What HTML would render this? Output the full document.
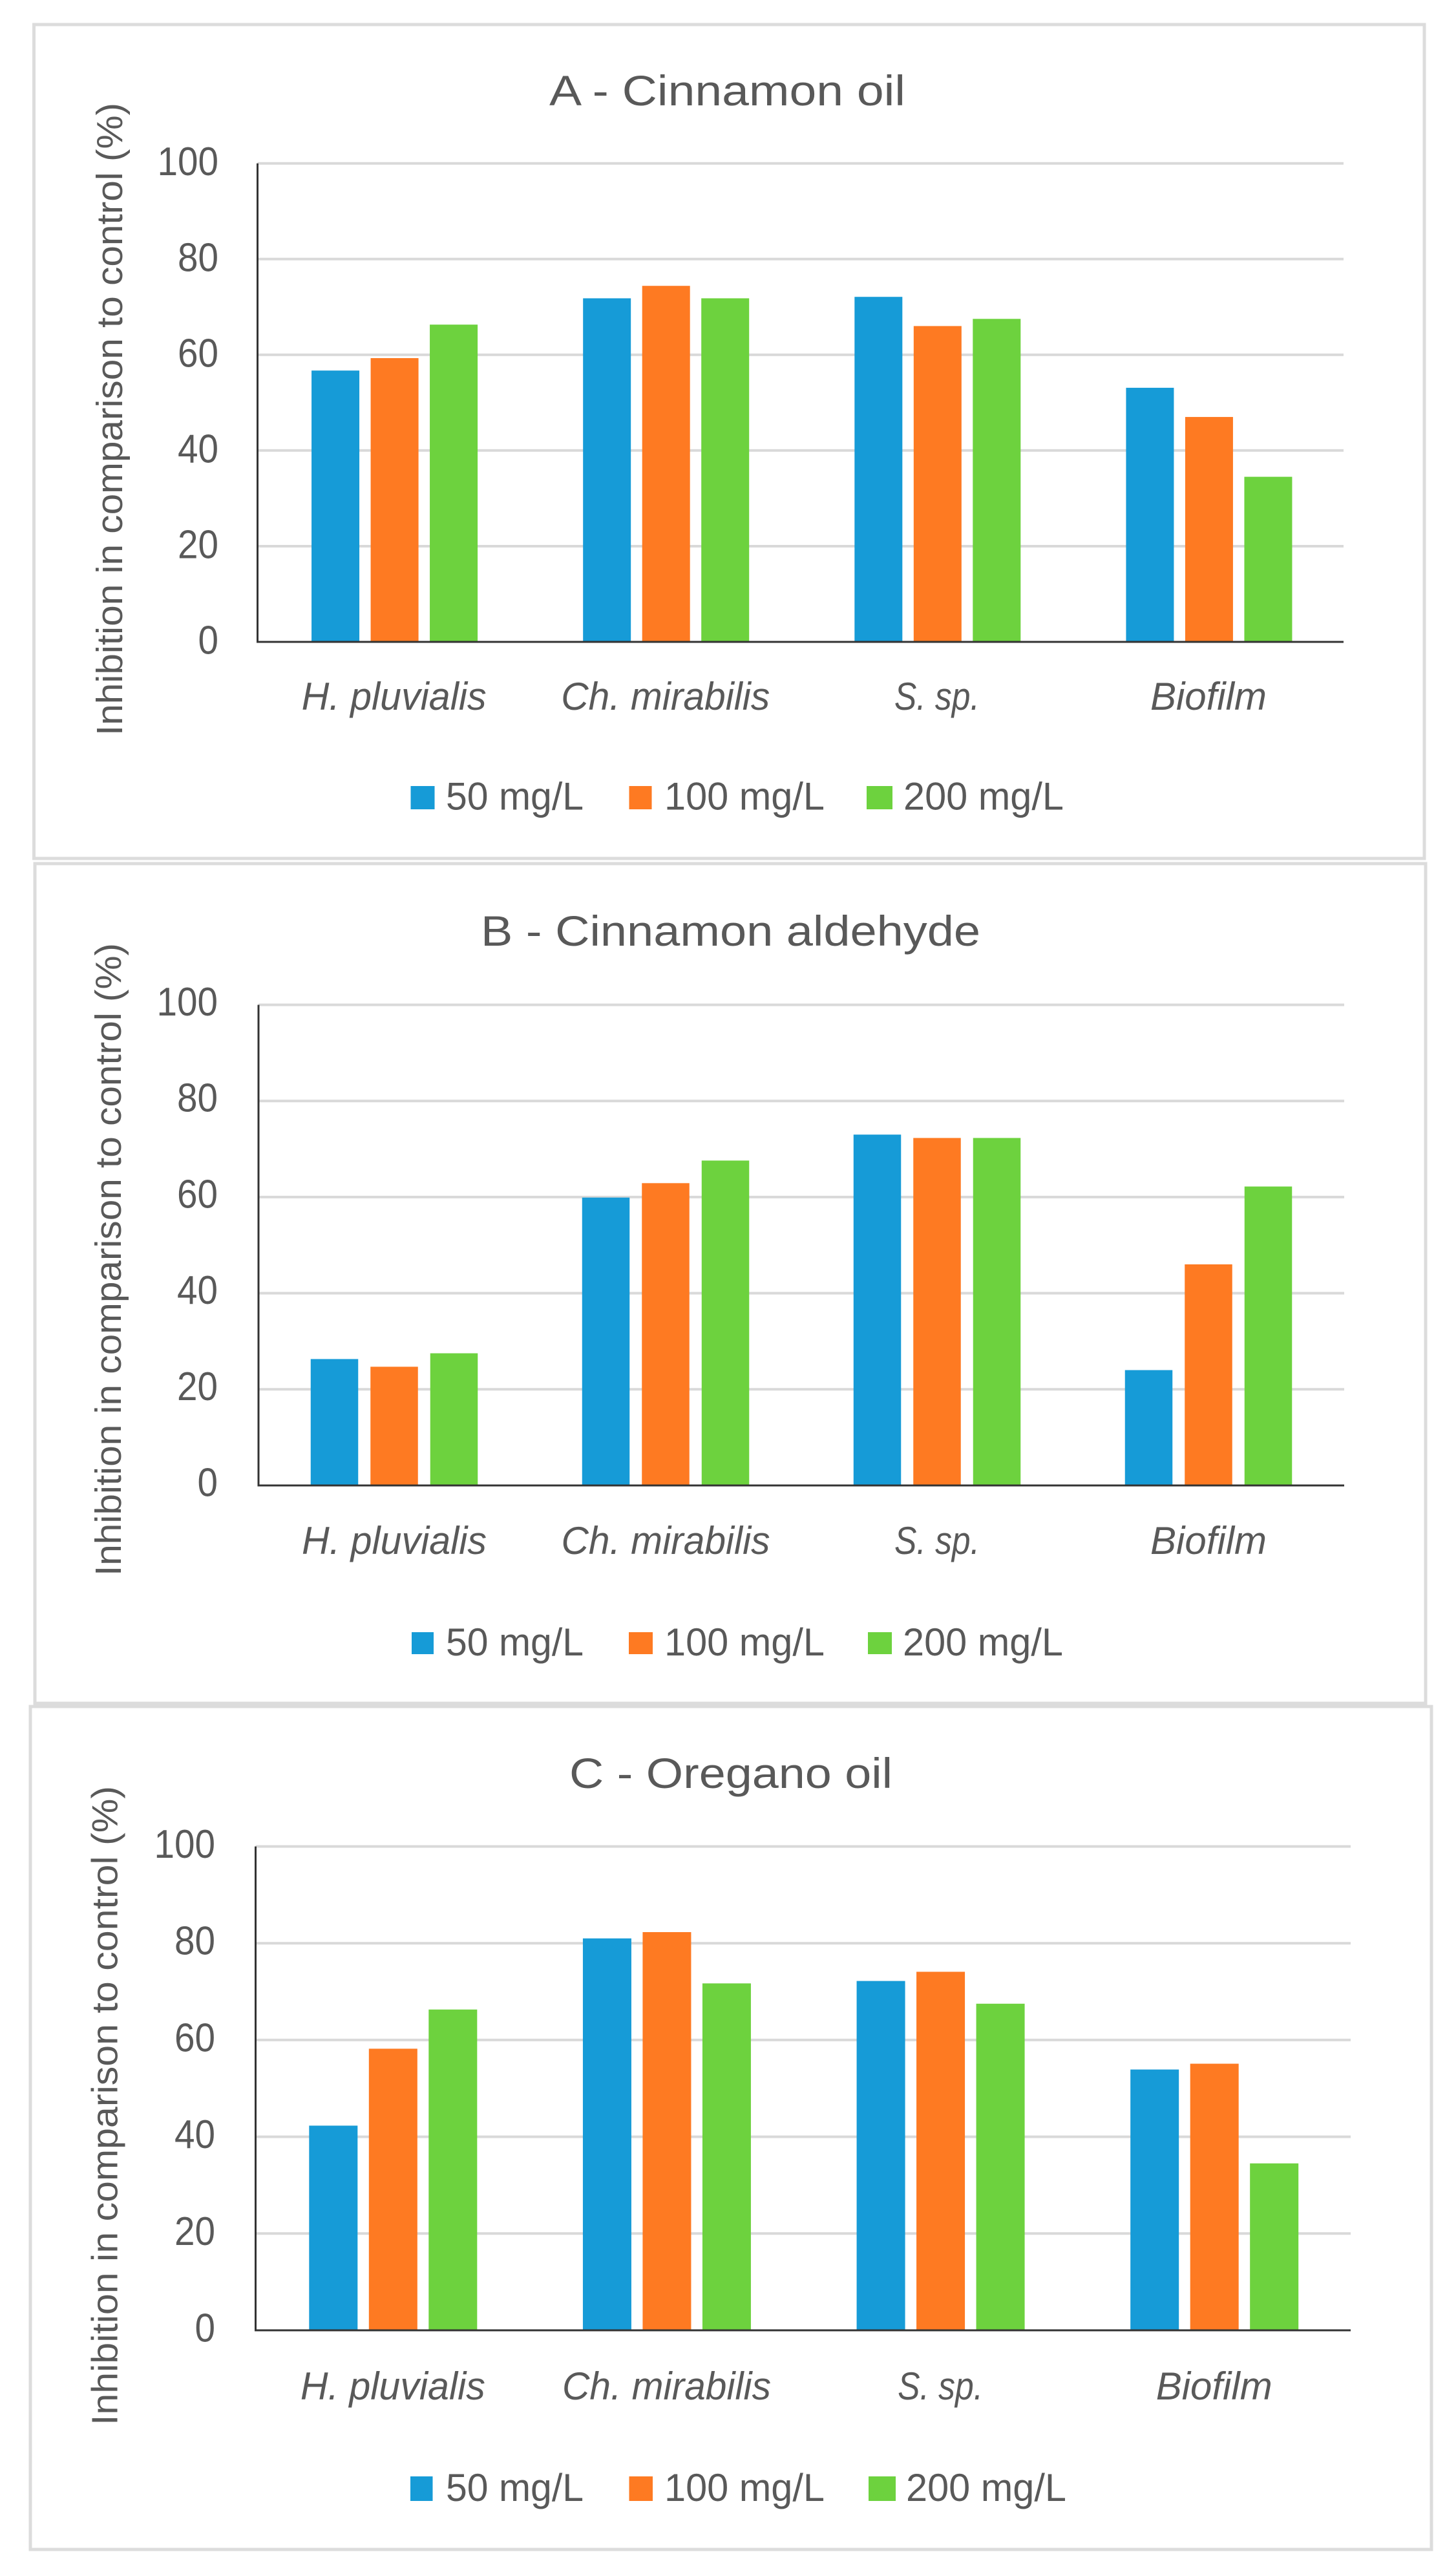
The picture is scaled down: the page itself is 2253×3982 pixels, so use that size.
<!DOCTYPE html>
<html lang="en">
<head>
<meta charset="utf-8">
<title>Inhibition in comparison to control</title>
<style>
html,body{margin:0;padding:0;background:#fff;}
svg{display:block;}
text{font-family:"Liberation Sans",sans-serif;fill:#595959;}
</style>
</head>
<body>
<svg id="figure" xmlns="http://www.w3.org/2000/svg" width="2253" height="3982" viewBox="0 0 2253 3982">
  <rect width="2253" height="3982" fill="#fff"/>

  <g id="panel-a">
    <rect x="52.5" y="38" width="2151.5" height="1290" fill="#fff" stroke="#dcdcdc" stroke-width="5"/>
    <text x="1125.5" y="163" text-anchor="middle" font-size="66" textLength="551" lengthAdjust="spacingAndGlyphs">A - Cinnamon oil</text>
    <text transform="translate(189,1138) rotate(-90)" font-size="57" textLength="979" lengthAdjust="spacingAndGlyphs">Inhibition in comparison to control (%)</text>
  </g>

  <g id="panel-b">
    <rect x="54" y="1336" width="2152" height="1299" fill="#fff" stroke="#dcdcdc" stroke-width="5"/>
    <text x="1130.5" y="1463" text-anchor="middle" font-size="66" textLength="773" lengthAdjust="spacingAndGlyphs">B - Cinnamon aldehyde</text>
    <text transform="translate(187,2438) rotate(-90)" font-size="57" textLength="979" lengthAdjust="spacingAndGlyphs">Inhibition in comparison to control (%)</text>
  </g>

  <g id="panel-c">
    <rect x="47" y="2640" width="2168" height="1304" fill="#fff" stroke="#dcdcdc" stroke-width="5"/>
    <text x="1131" y="2766" text-anchor="middle" font-size="66" textLength="500" lengthAdjust="spacingAndGlyphs">C - Oregano oil</text>
    <text transform="translate(181.5,3752) rotate(-90)" font-size="57" textLength="989" lengthAdjust="spacingAndGlyphs">Inhibition in comparison to control (%)</text>
  </g>
</svg>

<script>
// Chart data
const categories = ["H. pluvialis", "Ch. mirabilis", "S. sp.", "Biofilm"];
const seriesNames = ["50 mg/L", "100 mg/L", "200 mg/L"];
const yTicks = [0, 20, 40, 60, 80, 100];

const cinnamonOil50 = [56.7, 71.8, 72.1, 53.1];
const cinnamonOil100 = [59.3, 74.4, 66.0, 47.0];
const cinnamonOil200 = [66.3, 71.8, 67.5, 34.5];

const cinnamonAldehyde50 = [26.3, 59.9, 73.0, 24.0];
const cinnamonAldehyde100 = [24.7, 62.9, 72.3, 46.0];
const cinnamonAldehyde200 = [27.5, 67.6, 72.3, 62.2];

const oreganoOil50 = [42.3, 81.0, 72.2, 53.9];
const oreganoOil100 = [58.2, 82.3, 74.1, 55.1];
const oreganoOil200 = [66.3, 71.7, 67.5, 34.5];

// Layout and styling
const seriesColors = ["#169bd7", "#fe7a22", "#6dd23e"];
const labelWidths = [286, 323, 132, 180];
const legendTextWidths = [213, 248, 248];
const svgNS = "http://www.w3.org/2000/svg";

const panels = [
  { id: "panel-a", key: "a", series: [cinnamonOil50, cinnamonOil100, cinnamonOil200],
    left: 398.5, right: 2079, top: 252.7, bottom: 993, tickRight: 338, tickDy: 18.5,
    labelBaseline: 1098, barWidth: 74, barStep: 91.5, groupShift: 2,
    legendSwatchTop: 1216, legendSwatchHeight: 36, legendBaseline: 1252.5,
    legendSwatchX: [635.5, 973.5, 1341], legendSwatchW: [37, 35, 40], legendTextX: [690, 1028, 1398] },
  { id: "panel-b", key: "b", series: [cinnamonAldehyde50, cinnamonAldehyde100, cinnamonAldehyde200],
    left: 400, right: 2080, top: 1554.5, bottom: 2298, tickRight: 337, tickDy: 16.5,
    labelBaseline: 2404, barWidth: 73.5, barStep: 92.5, groupShift: 0,
    legendSwatchTop: 2525, legendSwatchHeight: 34, legendBaseline: 2561,
    legendSwatchX: [637, 973, 1343], legendSwatchW: [34, 37, 37], legendTextX: [690, 1028, 1397] },
  { id: "panel-c", key: "c", series: [oreganoOil50, oreganoOil100, oreganoOil200],
    left: 395.5, right: 2090, top: 2856.5, bottom: 3605, tickRight: 333, tickDy: 17.5,
    labelBaseline: 3712, barWidth: 75, barStep: 92.5, groupShift: 1,
    legendSwatchTop: 3831, legendSwatchHeight: 38, legendBaseline: 3869,
    legendSwatchX: [635, 973.5, 1344], legendSwatchW: [34.5, 36.5, 42], legendTextX: [690, 1028, 1402] }
];

function make(tag, attrs, parent, text) {
  const el = document.createElementNS(svgNS, tag);
  for (const k in attrs) el.setAttribute(k, attrs[k]);
  if (text !== undefined) el.textContent = text;
  parent.appendChild(el);
  return el;
}

panels.forEach(function (p) {
  const root = document.getElementById(p.id);
  const yScale = function (v) { return p.bottom - (v / 100) * (p.bottom - p.top); };
  const bandWidth = (p.right - p.left) / categories.length;
  const xBand = function (i) { return p.left + bandWidth * (i + 0.5); };

  // Grid lines and tick labels
  yTicks.forEach(function (t) {
    if (t > 0) {
      const grid = make("line", { x1: p.left, x2: p.right, y1: yScale(t), y2: yScale(t), stroke: "#d9d9d9", "stroke-width": 4 }, root);
      
      
    }
    const label = String(t);
    const tick = make("text", { x: p.tickRight, y: yScale(t) + p.tickDy, "text-anchor": "end", "font-size": 62,
      textLength: label.length * 31.5, lengthAdjust: "spacingAndGlyphs" }, root, label);
    
    
  });

  // Bars
  p.series.forEach(function (values, s) {
    values.forEach(function (v, i) {
      const cx = xBand(i) + p.groupShift + (s - 1) * p.barStep;
      const bar = make("rect", { x: cx - p.barWidth / 2, y: yScale(v), width: p.barWidth, height: yScale(0) - yScale(v), fill: seriesColors[s] }, root);
      
      
    });
  });

  // Axes
  const yAxis = make("line", { x1: p.left, x2: p.left, y1: p.top, y2: p.bottom + 1.5, stroke: "#333", "stroke-width": 3 }, root);
  
  
  const xAxis = make("line", { x1: p.left - 1.5, x2: p.right, y1: p.bottom, y2: p.bottom, stroke: "#333", "stroke-width": 3 }, root);
  
  

  // Category labels
  categories.forEach(function (c, i) {
    const cat = make("text", { x: xBand(i) + p.groupShift / 2, y: p.labelBaseline, "text-anchor": "middle", "font-size": 60, "font-style": "italic",
      textLength: labelWidths[i], lengthAdjust: "spacingAndGlyphs" }, root, c);
    
    
  });

  // Legend
  seriesNames.forEach(function (n, s) {
    const swatch = make("rect", { x: p.legendSwatchX[s], y: p.legendSwatchTop, width: p.legendSwatchW[s], height: p.legendSwatchHeight, fill: seriesColors[s] }, root);
    
    
    const entry = make("text", { x: p.legendTextX[s], y: p.legendBaseline, "font-size": 60,
      textLength: legendTextWidths[s], lengthAdjust: "spacingAndGlyphs" }, root, n);
    
    
  });
});
</script>
</body>
</html>
